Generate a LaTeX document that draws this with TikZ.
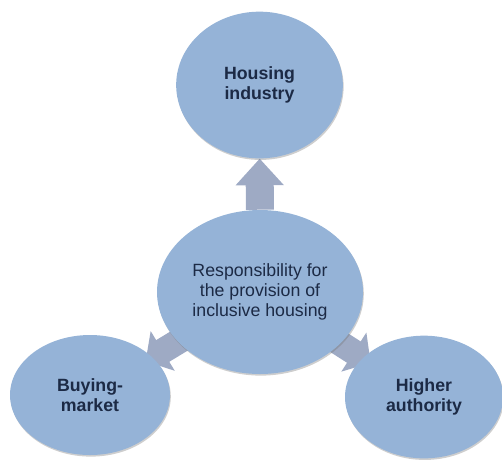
\documentclass[tikz,border=0pt]{standalone}
\usepackage{fontspec}
\setmainfont{Liberation Sans}
\usepackage{tikz}
\usetikzlibrary{arrows.meta,shapes.geometric,shadows,backgrounds}
\definecolor{bubble}{HTML}{95B3D7}
\definecolor{arrowblue}{HTML}{9EAAC4}
\definecolor{inktext}{HTML}{1C2A45}

\begin{document}
\begin{tikzpicture}[x=0.75pt,y=-0.75pt,
	every node/.style={ellipse,fill=bubble,text=inktext,align=center,inner sep=0pt,
		font=\fontsize{13.3}{15}\selectfont,
		drop shadow={shadow xshift=0.6pt,shadow yshift=-1.2pt,opacity=0.35,fill=black!55}},
	flow/.style={draw=arrowblue,line width=21pt,-{Triangle[width=35pt,length=20pt]}},
	flowsmall/.style={draw=arrowblue,line width=19pt,-{Triangle[width=34pt,length=15pt]}}]
	\useasboundingbox (0,0) rectangle (502,461);
	\node[minimum width=125pt,minimum height=110pt] (n1) at (259.5,85)  {\bfseries Housing\\\bfseries industry};
	\node[minimum width=154.5pt,minimum height=123pt] (n2) at (260,292)  {Responsibility for\\the provision of\\inclusive housing};
	\node[minimum width=120pt,minimum height=90pt] (n3) at (90,395)  {\bfseries Buying-\\\bfseries market};
	\node[minimum width=118.5pt,minimum height=92pt] (n4) at (424,397)  {\bfseries Higher\\\bfseries authority};
	
	\begin{scope}[on background layer]
	\draw[flow] (n2) -- (n1);
	\draw[flowsmall,shorten <=-8pt,shorten >=-6pt] (n2) -- (n3);
	\draw[flowsmall,shorten <=-8pt,shorten >=-7pt] (n2) -- (n4);
	\end{scope}
	
\end{tikzpicture}
\end{document}
